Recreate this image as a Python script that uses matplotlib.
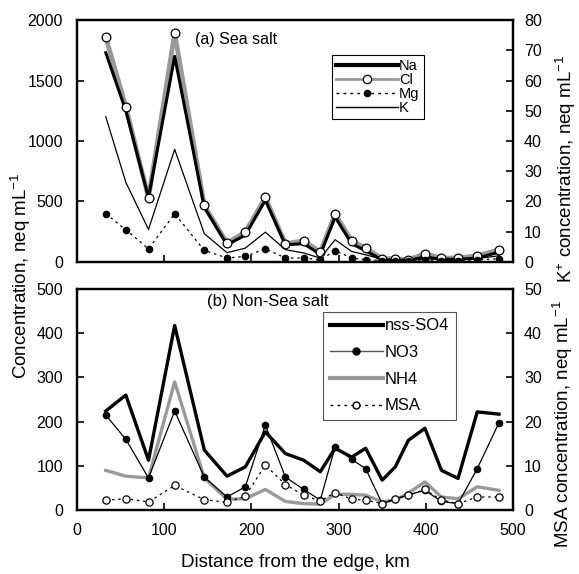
import matplotlib.pyplot as plt
from matplotlib.lines import Line2D

plt.rcParams['font.family'] = ['Liberation Sans', 'DejaVu Sans']
plt.rcParams['mathtext.default'] = 'regular'

# sampling distance from the edge, km
distance = [33, 56, 82, 112, 146, 172, 193, 216, 239, 260, 279,
            296, 315, 331, 350, 365, 380, 399, 418, 437, 459, 484]

# (a) sea salt, neq mL-1
na = [1730, 1250, 530, 1700, 450, 140, 220, 510, 140, 150, 60,
      370, 150, 90, 15, 15, 10, 40, 20, 20, 30, 80]
cl = [1858, 1284, 527, 1891, 466, 155, 246, 532, 149, 174, 80,
      394, 174, 113, 25, 25, 17, 66, 31, 31, 50, 99]
mg = [397, 265, 107, 397, 94, 31, 44, 107, 31, 31, 17,
      91, 31, 17, 10, 10, 8, 15, 10, 10, 15, 25]
k = [48, 26.3, 10.7, 37.2, 9.3, 3.0, 4.5, 9.8, 4.0, 2.9, 1.2,
     7.3, 3.4, 2.3, 0.8, 0.5, 0.4, 1.0, 0.8, 0.8, 1.0, 2.0]

# (b) non-sea salt, neq mL-1
nss_so4 = [224, 260, 113, 417, 136, 77, 98, 177, 128, 113, 87,
           140, 120, 140, 68, 98, 158, 185, 90, 72, 222, 217]
no3 = [215, 160, 73, 224, 75, 30, 53, 192, 75, 47, 23,
       143, 115, 94, 15, 25, 35, 45, 20, 15, 94, 198]
nh4 = [90, 77, 73, 290, 73, 25, 26, 47, 20, 15, 14,
       36, 36, 34, 19, 23, 39, 64, 30, 26, 53, 45]
msa = [2.3, 2.6, 1.9, 5.6, 2.4, 1.8, 3.2, 10.2, 5.8, 3.4, 2.1,
       4.0, 2.5, 2.3, 1.5, 2.6, 3.4, 4.7, 2.3, 1.5, 3.0, 3.0]

GRAY = '#999999'
FS = 11.5
LABEL_FS = 13.5


def style_axes(ax, side):
    for sp in ax.spines.values():
        sp.set_linewidth(1.6)
    ax.tick_params(direction='in', length=5, width=1.2, labelsize=FS)
    if side == 'left':
        ax.tick_params(axis='y', pad=10)
    else:
        ax.tick_params(axis='y', pad=8)


fig = plt.figure(figsize=(5.79, 5.74), dpi=100)
ax1 = fig.add_axes([0.133, 0.544, 0.753, 0.421])
ax2 = fig.add_axes([0.133, 0.111, 0.753, 0.386])

# ---- (a) Sea salt ----
ax1k = ax1.twinx()
ax1.plot(distance, cl, color=GRAY, lw=3.4, zorder=2)
ax1.plot(distance, na, color='black', lw=2.2, zorder=3)
ax1.plot(distance, cl, ls='none', marker='o', ms=6.3, mfc='white', mec='black', mew=0.9, zorder=4)
ax1.plot(distance, mg, color='black', lw=0.9, ls=(0, (2, 3)), marker='o', ms=4.5, zorder=4)
ax1k.plot(distance, k, color='black', lw=0.9)

ax1.set_xlim(0, 500)
ax1.set_ylim(0, 2000)
ax1.set_yticks(range(0, 2001, 500))
ax1.set_xticks(range(0, 501, 100))
ax1.tick_params(labelbottom=False)
ax1k.set_ylim(0, 80)
ax1k.set_yticks(range(0, 81, 10))
style_axes(ax1, 'left')
style_axes(ax1k, 'right')
ax1.text(0.271, 0.919, '(a) Sea salt', transform=ax1.transAxes, fontsize=11.5, va='center')

h1 = [Line2D([], [], color='black', lw=3),
      Line2D([], [], color=GRAY, lw=2, marker='o', ms=6, mfc='white', mec='black', mew=0.9),
      Line2D([], [], color='black', lw=1, ls=(0, (2, 3)), marker='o', ms=4.5),
      Line2D([], [], color='black', lw=1)]
leg1 = ax1k.legend(h1, ['Na', 'Cl', 'Mg', 'K'], loc='upper left', bbox_to_anchor=(0.585, 0.857),
                   fontsize=10.5, handlelength=4.2, handletextpad=0.1, labelspacing=0.0,
                   borderpad=0.3, borderaxespad=0, fancybox=False, framealpha=1,
                   edgecolor='black')
leg1.get_frame().set_linewidth(0.8)

# ---- (b) Non-Sea salt ----
ax2m = ax2.twinx()
ax2.plot(distance, nh4, color=GRAY, lw=2.4, zorder=2)
ax2.plot(distance, nss_so4, color='black', lw=2.4, zorder=3)
ax2.plot(distance, no3, color='black', lw=0.9, marker='o', ms=4.5, zorder=4)
ax2m.plot(distance, msa, color='black', lw=0.9, ls=(0, (2, 3)), marker='o', ms=5.2,
          mfc='white', mec='black', mew=0.9)

ax2.set_xlim(0, 500)
ax2.set_ylim(0, 500)
ax2.set_yticks(range(0, 501, 100))
ax2.set_xticks(range(0, 501, 100))
ax2m.set_ylim(0, 50)
ax2m.set_yticks(range(0, 51, 10))
style_axes(ax2, 'left')
style_axes(ax2m, 'right')
ax2.tick_params(axis='x', pad=9)
ax2.text(0.298, 0.943, '(b) Non-Sea salt', transform=ax2.transAxes, fontsize=12, va='center')

h2 = [Line2D([], [], color='black', lw=3),
      Line2D([], [], color='#555555', lw=1, marker='o', ms=5, mfc='black', mec='black'),
      Line2D([], [], color=GRAY, lw=3),
      Line2D([], [], color='black', lw=1, ls=(0, (2, 3)), marker='o', ms=5, mfc='white', mec='black')]
leg2 = ax2m.legend(h2, ['nss-SO4', 'NO3', 'NH4', 'MSA'], loc='upper left', bbox_to_anchor=(0.564, 0.896),
                   fontsize=12, handlelength=3.2, handletextpad=0.1, labelspacing=0.7,
                   borderpad=0.4, borderaxespad=0, fancybox=False, framealpha=1,
                   edgecolor='#555555')
leg2.get_frame().set_linewidth(0.8)

ax2.set_xlabel('Distance from the edge, km', fontsize=LABEL_FS, labelpad=12)

fig.text(0.036, 0.52, 'Concentration, neq mL$^{-1}$', rotation=90, fontsize=LABEL_FS,
         ha='center', va='center')
fig.text(0.977, 0.705, 'K$^{+}$ concentration, neq mL$^{-1}$', rotation=90, fontsize=LABEL_FS,
         ha='center', va='center')
fig.text(0.972, 0.262, 'MSA concentration, neq mL$^{-1}$', rotation=90, fontsize=LABEL_FS,
         ha='center', va='center')

fig.savefig('out.png', dpi=100)
